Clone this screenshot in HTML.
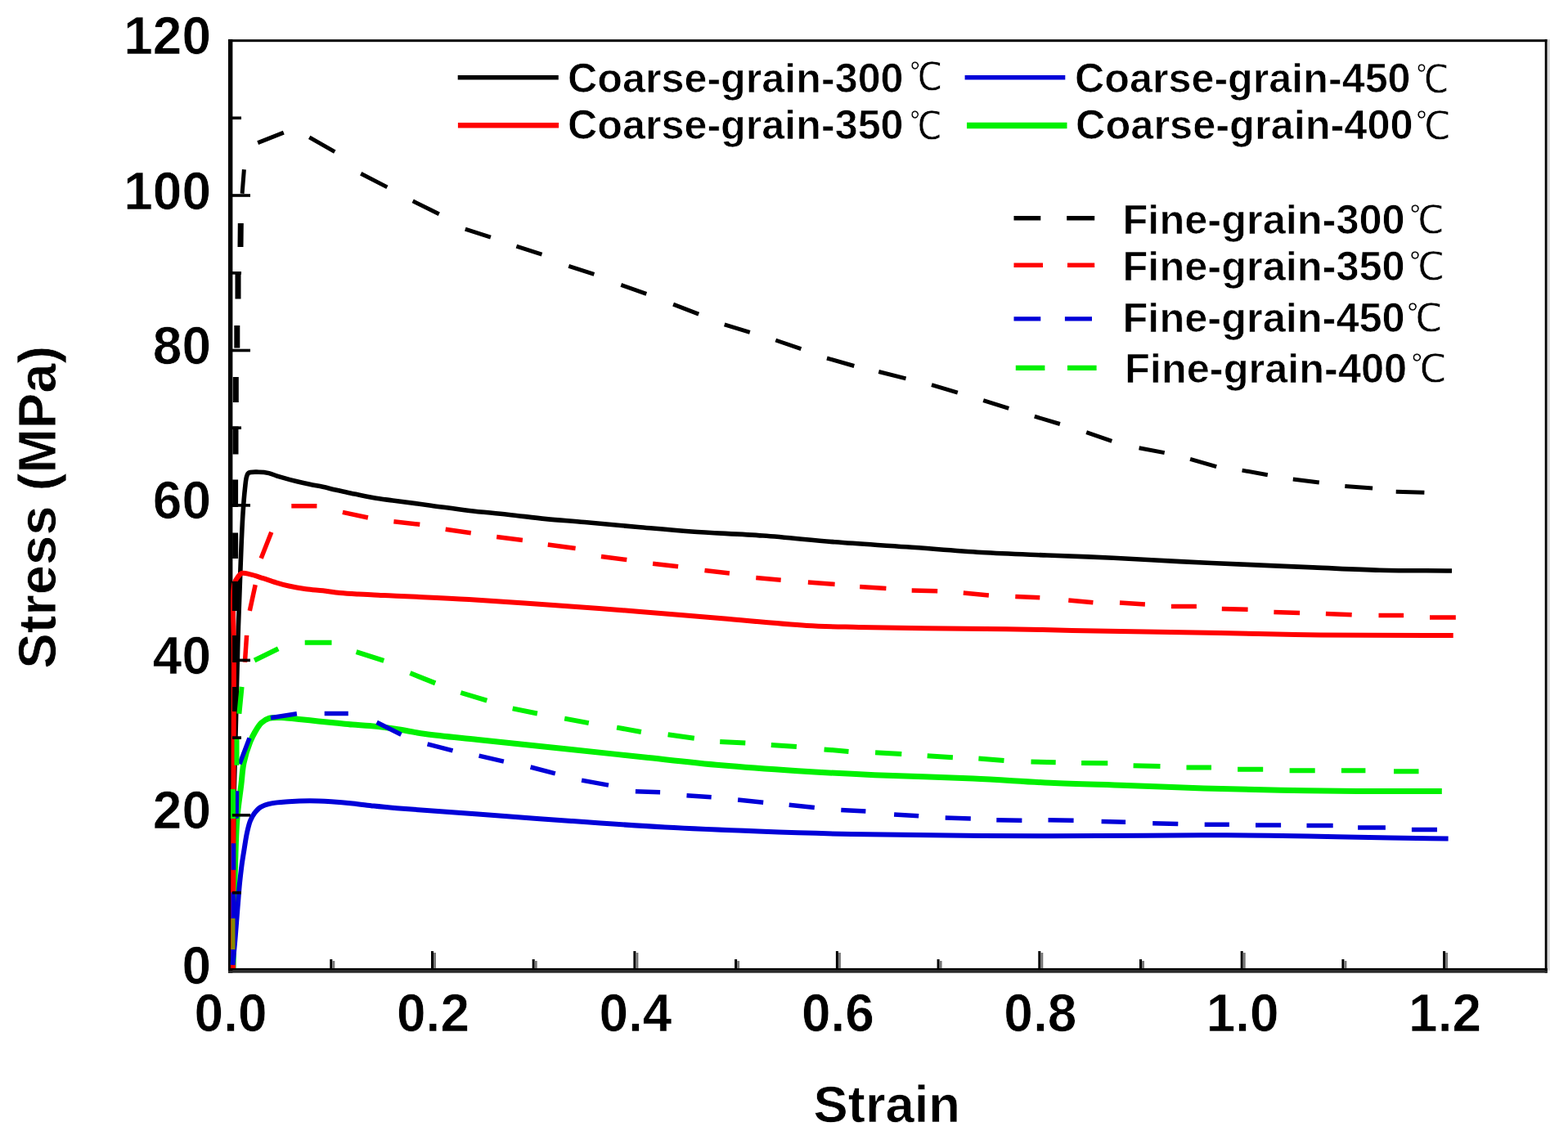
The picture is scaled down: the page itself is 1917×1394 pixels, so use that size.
<!DOCTYPE html>
<html><head><meta charset="utf-8"><title>Stress-Strain</title>
<style>
html,body{margin:0;padding:0;background:#fff;overflow:hidden;}
svg{display:block;}
text{font-family:"Liberation Sans",Arial,sans-serif;font-weight:bold;fill:#000;stroke:#fff;stroke-width:0.7px;}
text.deg{font-family:"Liberation Sans","WenQuanYi Zen Hei",sans-serif;font-weight:normal;stroke:#fff;stroke-width:0.6px;}
</style></head><body>
<svg width="1917" height="1394" viewBox="0 0 1917 1394">
<rect width="1917" height="1394" fill="#fff"/>
<g id="curves">
<rect x="279" y="48.2" width="5.4" height="1141.5" fill="#000"/>
<path d="M285 1186C285.8 1144 286.4 1094.3 287.5 1060C288.2 1036.3 288.5 1018.1 290 1000C291.2 985 293.5 971.2 294.9 959.1C296.1 949.4 296.2 941.6 298 933C299.8 924.2 303.1 914 305.9 907C307.9 902 309.8 898.3 312.1 894.4C314.3 890.7 316.5 886.7 319.4 884C322.1 881.5 324.9 879.4 328.8 878.3C333.8 876.8 341.2 877.5 347.6 877.7C354.4 877.9 361.5 879.1 368.5 879.8C375.4 880.5 382.4 881.2 389.3 881.9C396.3 882.6 403.2 883.3 410.2 884C417.2 884.7 424.1 885.5 431.1 886.1C438 886.7 444.3 886.9 451.9 887.6C461.3 888.5 472.4 889.7 483.2 891.3C495 893 506 895.6 520 897.5C538.4 900.1 559.7 901.9 584.2 904.5C616.8 908 662.7 912.7 698.5 916.5C730.1 919.8 757.7 922.8 787.8 926C818.7 929.3 850.4 933 881.7 935.8C913 938.6 944.3 940.7 975.6 942.7C1006.9 944.7 1036.2 946.2 1069.5 947.7C1107.2 949.4 1152.3 950.3 1190 952C1223.3 953.5 1252.6 955.9 1283.9 957.3C1315.2 958.7 1346.5 959.3 1377.8 960.4C1409.1 961.5 1440.4 963 1471.7 964C1503 965 1534.3 965.7 1565.6 966.3C1596.9 966.9 1627.5 967.2 1659.5 967.4C1693.1 967.6 1728.4 967.5 1762.8 967.6" stroke="#00f000" stroke-width="7" fill="none" stroke-linejoin="round" stroke-linecap="butt"/>
<path d="M284 1186C284.3 1150.7 284.5 1114.8 284.8 1080C285.1 1046.2 285.4 1013.3 286 980C286.6 946.7 287.7 913.3 288.5 880C289.3 846.7 290.1 811.5 291 780C291.8 751.8 293 722.3 293.8 700C294.4 684.1 294.8 671.8 295.4 659C295.9 647.8 296.3 638.1 297 627.6C297.7 617.2 298.7 604.5 299.6 596.3C300.2 590.9 300.5 586.2 301.5 583C302.1 581 302.3 579.3 303.8 578.3C306.2 576.7 312.1 577.2 316.3 577.2C320.5 577.2 325 577.7 328.8 578.6C332.1 579.4 334.9 580.8 338 581.8C341.2 582.8 344 583.6 347.6 584.6C352.2 585.9 358 587.4 363.2 588.7C368.4 590 373.7 591.2 378.9 592.3C384.1 593.4 389.3 594.2 394.5 595.3C399.7 596.4 405 597.9 410.2 599.1C415.4 600.3 420.6 601.5 425.8 602.6C431 603.7 436.3 604.7 441.5 605.7C446.7 606.7 451.4 607.8 457.1 608.8C464 610 471 610.8 480 612C492.9 613.7 511.3 616.1 527 618.2C542.6 620.3 558.3 622.7 573.9 624.5C589.5 626.3 605.2 627.5 620.8 629.2C636.5 630.9 652.1 633 667.8 634.6C683.4 636.1 697.8 637 714.7 638.5C734.7 640.2 758.2 642.6 780 644.5C801.8 646.4 821.9 648.3 845.3 650C872.3 651.9 903.7 652.9 932.9 655C962.1 657.1 991.4 660.5 1020.6 662.8C1049.8 665.1 1078.7 666.7 1108.2 668.8C1138.4 670.9 1170.4 673.8 1200 675.5C1227.6 677.1 1253.2 677.9 1280 679C1307 680.1 1334.3 680.9 1361.4 682.2C1388.5 683.5 1415.6 685.2 1442.7 686.6C1469.8 688 1497 689.2 1524.1 690.4C1551.2 691.6 1578.4 692.8 1605.5 693.9C1632.6 695 1659.1 696.5 1686.8 697.2C1715.6 697.9 1745.6 697.7 1775 698" stroke="#000000" stroke-width="5.6" fill="none" stroke-linejoin="round" stroke-linecap="butt"/>
<path d="M285 1186C285.2 1107.3 285.3 1019.8 285.5 950C285.7 894.4 285.9 843.1 286 800C286.1 767.4 283.1 727.2 286.3 714C287.3 709.8 288.8 708.4 290.4 706.1C291.9 704.1 293.3 701.7 295.6 700.9C298.3 700 302.3 701.6 306.1 702.4C310.8 703.4 316.5 705.5 321.7 707.1C326.9 708.8 332.2 710.7 337.4 712.3C342.6 713.9 347.4 715.3 353 716.5C359.4 717.9 366.9 719.2 373.9 720.2C380.8 721.2 387.8 721.5 394.8 722.3C401.7 723.1 408.6 724.2 415.6 724.9C422.5 725.6 429.5 726 436.5 726.4C443.5 726.8 450.3 727.2 457.4 727.5C464.8 727.9 472 728.1 480 728.5C489.2 728.9 497.8 729.2 509.5 729.8C526.7 730.6 549.5 731.6 573.3 733C603.6 734.8 642.1 737.6 676.5 740C710.9 742.5 745.4 745 779.8 747.7C814.2 750.4 848.7 753.4 883.1 756.3C917.5 759.2 956.1 763.1 986.4 764.9C1010.1 766.3 1027.6 766.4 1050 767C1075.1 767.6 1101.8 767.9 1130 768.3C1161.5 768.7 1198.4 768.7 1230 769.2C1258.4 769.6 1283.1 770.3 1310.8 770.9C1340.2 771.5 1371.3 772.1 1401.5 772.6C1431.8 773.1 1462 773.3 1492.3 773.9C1522.6 774.5 1552.8 775.5 1583.1 776C1613.4 776.5 1642.7 776.6 1673.9 776.8C1707.1 777 1742.4 777 1776.7 777.1" stroke="#ff0000" stroke-width="6" fill="none" stroke-linejoin="round" stroke-linecap="butt"/>
<path d="M284.5 1180C285.5 1169.3 286.5 1159.1 287.5 1148C288.5 1135.9 289.5 1121.9 290.5 1110C291.4 1099.4 292.1 1089.1 293 1080C293.8 1072.4 294.5 1066.1 295.4 1059.1C296.3 1052.1 297.5 1045.2 298.6 1038.2C299.7 1031.3 300.8 1023.6 302.2 1017.4C303.3 1012.4 304.3 1007.8 305.9 1003.8C307.3 1000.3 309 997.2 311.1 994.4C313.2 991.7 315.3 989 318.4 987.1C322 984.8 326.9 983.5 332 982.4C338.1 981.1 345.5 980.8 352.8 980.3C361 979.7 370.2 979.3 378.9 979.3C387.6 979.3 396.3 979.8 405 980.3C413.7 980.8 422.4 981.5 431.1 982.4C439.8 983.3 448.3 984.6 457.1 985.6C466.2 986.6 472.8 987.2 485 988.2C507.9 990.1 550 993 584.2 995.5C621 998.2 660.4 1001.3 698.5 1004C736.6 1006.7 774.6 1009.4 812.7 1011.5C850.8 1013.6 888.9 1015.1 927 1016.5C965.1 1017.9 1000 1019.1 1041.2 1020C1089.8 1021.1 1144 1021.7 1200 1022C1262.8 1022.4 1344.8 1022 1400 1021.8C1439.1 1021.7 1466.7 1021.2 1500 1021.3C1533.3 1021.4 1566.7 1022 1600 1022.5C1633.3 1023 1669.6 1024 1700 1024.5C1725.6 1024.9 1747.1 1025.2 1770.6 1025.5" stroke="#0000d8" stroke-width="6" fill="none" stroke-linejoin="round" stroke-linecap="butt"/>
<path d="M298.4 207.3L296.1 236.7M315.2 174.6L346.8 162.2M378.2 167.8L409.3 185.6M441.2 212.3L473.4 228.9M504.7 245.8L536.8 261.7M568.8 280.2L599.9 290.2M631.4 301.1L662.5 311.1M695.3 325.3L726.4 335.3M759.3 348.4L790.3 359.4M823.1 372.2L854.2 384.2M885.7 396.8L916.8 406.3M948.3 416L979.4 426.7M1011 438L1044.3 447.5M1074.3 454.5L1107.5 462.9M1139 470.6L1170.8 480.1M1202.2 489.7L1233.3 499.4M1264.8 509.2L1295.9 518.5M1328.2 528.7L1359.3 539.4M1392.6 547.7L1423.7 553.6M1455.1 561.4L1487.2 570.6M1518.6 575.1L1549.8 580.7M1580.8 586L1612.8 590.1M1644.3 594.5L1678.1 597.1M1706.7 601.2L1741.4 602.2" stroke="#000000" stroke-width="5" fill="none" stroke-linecap="butt"/>
<path d="M287.5 840L287.5 870M287.5 777L287.5 810M287.5 712L287.5 747M287.6 651.5L287.6 683M287.6 586.5L287.6 620M288 521.5L288 555.5M288.3 461L288.3 492M289.8 398L289.8 425.5M291 333.5L291 365.5M294.3 273L294 302" stroke="#000000" stroke-width="7" fill="none" stroke-linecap="butt"/>
<path d="M299.4 809.8L301.6 776.9M305.3 746.8L312.2 715.2M319.2 682.8L331.8 650.7M356.3 618.8L387.4 618.8M418.9 626.4L449.9 633M481.4 637.7L513.3 641.3M544.7 647.3L575.8 651.7M607.2 656.5L638.9 660.5M669.8 666.1L703.6 670.6M735 680.4L766.3 684.6M798.1 689.2L829.1 692.8M861.5 697.4L891.9 701M924.3 706.6L954.7 709.2M987.9 712L1020.6 714.4M1051.2 717.6L1083.4 719.6M1114.7 722.1L1146.2 722.7M1177.8 725.1L1208.9 727.9M1241.3 729.4L1271.3 730.7M1306.3 733.9L1336.4 736.7M1369 737L1399.9 739M1431.9 741.4L1462.9 741.4M1493.8 744.5L1525.6 745.2M1557.4 748.4L1589.1 749.4M1620.9 750.6L1652.7 751.8M1685.5 752.6L1716.1 752.6M1748 755L1779.8 755" stroke="#ff0000" stroke-width="5.5" fill="none" stroke-linecap="butt"/>
<path d="M285 1176.4L285 1160.6M285.2 1123.8L285.2 1091.2M285.5 1063.8L285.5 1031.2M289 1000.8L289.5 967.2M292.9 934.2L305 902.4M331 877.7L362.9 872.7M396.7 872.6L425.8 872.6M460.6 883.3L490.5 898.3M522.6 909.9L553.5 917.9M585.6 924.1L615.9 931.1M648.6 938L678.8 945.8M711.1 954.1L744 960.1M776.9 967.7L807.1 968.7M839.5 972.8L869.7 974.8M902.1 978.1L933.2 981.2M964.7 984.3L995.8 987.4M1028.3 990.6L1058.4 992.1M1093.1 995.9L1123.2 997.8M1155.7 1000L1186.8 1000.9M1218.3 1002.7L1249.4 1003.3M1281.5 1002.7L1312.6 1003.3M1346.6 1004.6L1376.1 1005.2M1409.2 1006.7L1440.3 1007.4M1472.7 1008.3L1502.9 1008.3M1535 1008.9L1566.1 1008.9M1597.5 1009.6L1629.7 1009.6M1660.1 1012.1L1693.9 1012.1M1725.9 1014.6L1757 1014.6" stroke="#0000d8" stroke-width="5.5" fill="none" stroke-linecap="butt"/>
<path d="M285 1000.9L285 965.1M289.5 935.8L289.5 902.2M292.4 872.8L295.6 839.9M311.1 807.5L340.2 793.2M372.7 785.7L405.5 785.7M435.6 797.2L469.3 807.9M501.4 823L532.2 835.4M563.3 847L595.3 856.6M626.7 866.4L656.9 872.5M690.2 878.6L719.8 884.1M754.1 889.6L783.9 895M816.6 898.3L848.8 902.8M880.2 907L911.3 908.6M942.8 910.9L973.9 912.9M1007.6 916.4L1037.5 918.9M1070.1 920.3L1102.3 921.9M1133.7 924.2L1164.9 926.3M1196.4 927.6L1227.5 930.1M1260.5 931.4L1290.7 932.2M1322.1 932.9L1354.3 933.2M1385.6 936.3L1418.5 937M1450.5 938.5L1481 938.5M1513.1 940.7L1544.2 940.7M1576.6 942.3L1607.7 942.3M1639.9 942.3L1669.4 942.3M1704 943.2L1734.5 943.2" stroke="#00f000" stroke-width="6" fill="none" stroke-linecap="butt"/>
<path d="M285 1161V1123" stroke="#8a8a00" stroke-width="5"/>
</g>
<g id="axes">
<rect x="279" y="48.2" width="1612.7" height="3" fill="#000"/>
<rect x="1888.7" y="48.2" width="3" height="1141.5" fill="#000"/>
<rect x="1891.7" y="48.2" width="3" height="1138.5" fill="#d8d8d8"/>
<rect x="279" y="1183.9" width="1612.7" height="2.9" fill="#000"/>
<rect x="279" y="1186.8" width="1612.7" height="2.9" fill="#2a2a2a"/>
<rect x="284" y="1089.8" width="11" height="3.6" fill="#000"/>
<rect x="284" y="995" width="22" height="3.6" fill="#000"/>
<rect x="284" y="900.3" width="11" height="3.6" fill="#000"/>
<rect x="284" y="805.6" width="22" height="3.6" fill="#000"/>
<rect x="284" y="710.9" width="11" height="3.6" fill="#000"/>
<rect x="284" y="616.1" width="22" height="3.6" fill="#000"/>
<rect x="284" y="521.4" width="11" height="3.6" fill="#000"/>
<rect x="284" y="426.7" width="22" height="3.6" fill="#000"/>
<rect x="284" y="332" width="11" height="3.6" fill="#000"/>
<rect x="284" y="237.2" width="22" height="3.6" fill="#000"/>
<rect x="284" y="142.5" width="11" height="3.6" fill="#000"/>
<rect x="403.3" y="1173" width="3" height="11" fill="#000"/>
<rect x="406.3" y="1175" width="3" height="9" fill="#777"/>
<rect x="527" y="1163" width="3" height="21" fill="#000"/>
<rect x="530" y="1165" width="3" height="19" fill="#777"/>
<rect x="650.7" y="1173" width="3" height="11" fill="#000"/>
<rect x="653.7" y="1175" width="3" height="9" fill="#777"/>
<rect x="774.4" y="1163" width="3" height="21" fill="#000"/>
<rect x="777.4" y="1165" width="3" height="19" fill="#777"/>
<rect x="898.1" y="1173" width="3" height="11" fill="#000"/>
<rect x="901.1" y="1175" width="3" height="9" fill="#777"/>
<rect x="1021.9" y="1163" width="3" height="21" fill="#000"/>
<rect x="1024.9" y="1165" width="3" height="19" fill="#777"/>
<rect x="1145.6" y="1173" width="3" height="11" fill="#000"/>
<rect x="1148.6" y="1175" width="3" height="9" fill="#777"/>
<rect x="1269.3" y="1163" width="3" height="21" fill="#000"/>
<rect x="1272.3" y="1165" width="3" height="19" fill="#777"/>
<rect x="1393" y="1173" width="3" height="11" fill="#000"/>
<rect x="1396" y="1175" width="3" height="9" fill="#777"/>
<rect x="1516.7" y="1163" width="3" height="21" fill="#000"/>
<rect x="1519.7" y="1165" width="3" height="19" fill="#777"/>
<rect x="1640.4" y="1173" width="3" height="11" fill="#000"/>
<rect x="1643.4" y="1175" width="3" height="9" fill="#777"/>
<rect x="1764.1" y="1163" width="3" height="21" fill="#000"/>
<rect x="1767.1" y="1165" width="3" height="19" fill="#777"/>
</g>
<g id="legend">
<line x1="559.7" y1="94.8" x2="682.8" y2="94.8" stroke="#000" stroke-width="5.5"/>
<line x1="559.9" y1="153.3" x2="683.1" y2="153.3" stroke="#ff0000" stroke-width="6.5"/>
<line x1="1179.6" y1="94.7" x2="1302.3" y2="94.7" stroke="#0000d8" stroke-width="5.5"/>
<line x1="1182" y1="153.4" x2="1304.5" y2="153.4" stroke="#00f000" stroke-width="7.5"/>
<path d="M1239.5 266.8H1272.3M1304.2 266.8H1338.2" stroke="#000" stroke-width="5.5"/>
<path d="M1239.5 324.3H1275M1305 324.3H1338.2" stroke="#ff0000" stroke-width="5.5"/>
<path d="M1239.5 389.8H1272.3M1301.9 389.8H1335" stroke="#0000d8" stroke-width="5.3"/>
<path d="M1241.8 449.8H1277.4M1305 449.8H1340.6" stroke="#00f000" stroke-width="6.3"/>
</g>
<g id="labels">
<text x="258" y="1202.8" font-size="64" text-anchor="end">0</text>
<text x="258" y="1013.3" font-size="64" text-anchor="end">20</text>
<text x="258" y="823.9" font-size="64" text-anchor="end">40</text>
<text x="258" y="634.4" font-size="64" text-anchor="end">60</text>
<text x="258" y="445" font-size="64" text-anchor="end">80</text>
<text x="258" y="255.5" font-size="64" text-anchor="end">100</text>
<text x="258" y="66.1" font-size="64" text-anchor="end">120</text>
<text x="282.1" y="1260.5" font-size="64" text-anchor="middle">0.0</text>
<text x="529.5" y="1260.5" font-size="64" text-anchor="middle">0.2</text>
<text x="776.9" y="1260.5" font-size="64" text-anchor="middle">0.4</text>
<text x="1024.4" y="1260.5" font-size="64" text-anchor="middle">0.6</text>
<text x="1271.8" y="1260.5" font-size="64" text-anchor="middle">0.8</text>
<text x="1519.2" y="1260.5" font-size="64" text-anchor="middle">1.0</text>
<text x="1766.6" y="1260.5" font-size="64" text-anchor="middle">1.2</text>
<text x="1084.3" y="1371.5" font-size="63.3" text-anchor="middle">Strain</text>
<text transform="translate(67.8,620.3) rotate(-90)" x="0" y="0" font-size="65.2" text-anchor="middle">Stress (MPa)</text>
<text x="694" y="112.7" font-size="50.25">Coarse-grain-300</text>
<text class="deg" transform="translate(1111.95,109.85) scale(0.916,1.008)" font-size="47">℃</text>
<text x="694" y="170.2" font-size="50.25">Coarse-grain-350</text>
<text class="deg" transform="translate(1111.97,169.85) scale(0.906,1.008)" font-size="47">℃</text>
<text x="1314" y="112.9" font-size="50.25">Coarse-grain-450</text>
<text class="deg" transform="translate(1731.15,112.65) scale(0.916,1.008)" font-size="47">℃</text>
<text x="1315" y="170" font-size="50.5">Coarse-grain-400</text>
<text class="deg" transform="translate(1730.79,169.85) scale(0.983,1.008)" font-size="47">℃</text>
<text x="1372.5" y="286" font-size="50.5">Fine-grain-300</text>
<text class="deg" transform="translate(1722.91,284.65) scale(0.976,1.008)" font-size="47">℃</text>
<text x="1372.5" y="343.4" font-size="50.5">Fine-grain-350</text>
<text class="deg" transform="translate(1722.77,342.25) scale(0.991,1.008)" font-size="47">℃</text>
<text x="1372.5" y="406.2" font-size="50.5">Fine-grain-450</text>
<text class="deg" transform="translate(1719.85,405.05) scale(1.002,1.008)" font-size="47">℃</text>
<text x="1375" y="468.2" font-size="50.5">Fine-grain-400</text>
<text class="deg" transform="translate(1724.95,467.05) scale(0.999,1.008)" font-size="47">℃</text>
</g>
</svg>
</body></html>
